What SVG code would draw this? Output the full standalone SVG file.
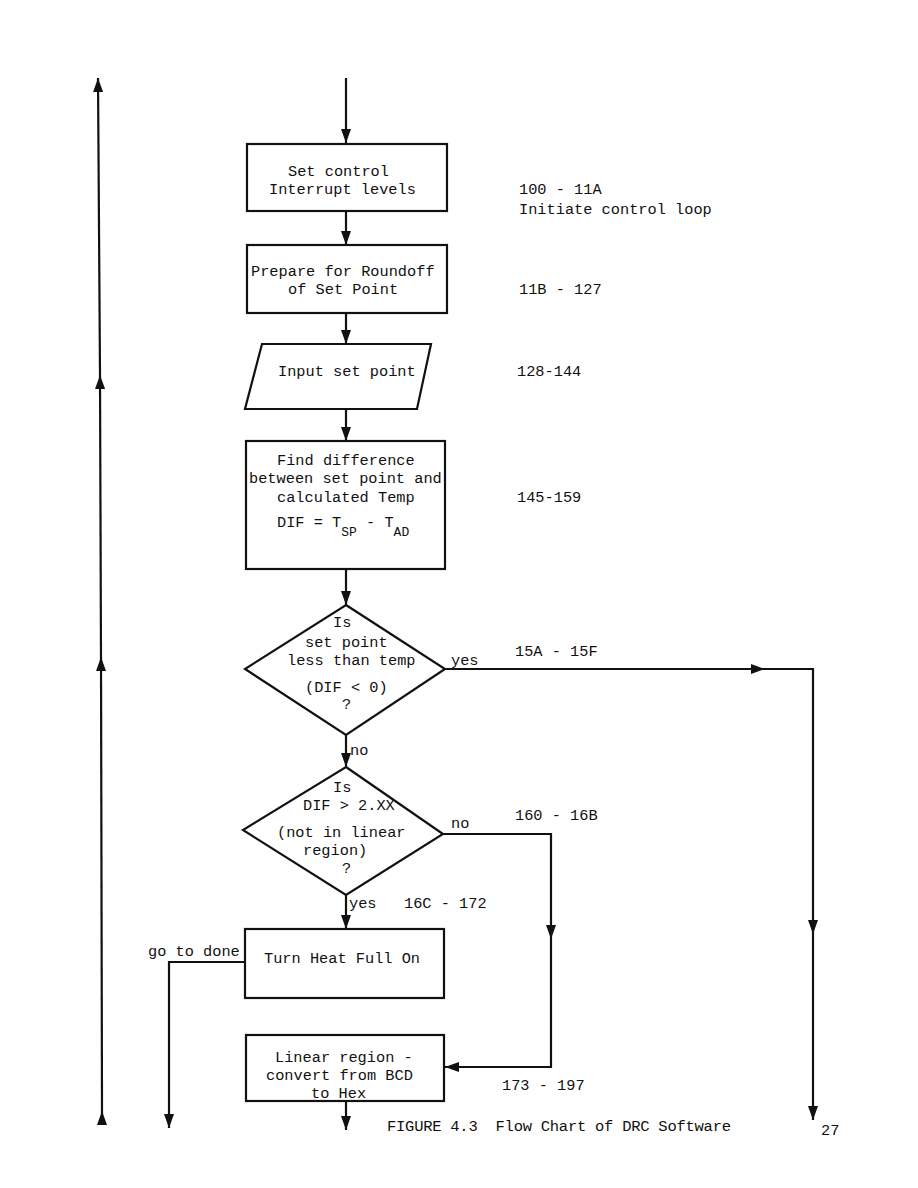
<svg xmlns="http://www.w3.org/2000/svg" width="918" height="1188" viewBox="0 0 918 1188">
<style>
  .shape { fill: #ffffff; stroke: #111111; stroke-width: 2.2; }
  .conn { fill: none; stroke: #111111; stroke-width: 2.2; }
  text { font-family: "Liberation Mono", "DejaVu Sans Mono", monospace; font-size: 15.3px; fill: #111111; }
  .sub { font-size: 13px; }
  .cap { font-size: 15.5px; }
</style>
<defs>
  <marker id="ah" viewBox="0 0 14 10" refX="14" refY="5" markerWidth="14" markerHeight="10" markerUnits="userSpaceOnUse" orient="auto">
    <path d="M0,0 L14,5 L0,10 z" fill="#111111"/>
  </marker>
</defs>
<rect width="918" height="1188" fill="#ffffff"/>

<g id="connectors">
  <path class="conn" d="M346,78 L346,143" marker-end="url(#ah)"/>
  <path class="conn" d="M346,212 L346,245" marker-end="url(#ah)"/>
  <path class="conn" d="M346,313 L346,344" marker-end="url(#ah)"/>
  <path class="conn" d="M346,409 L346,441" marker-end="url(#ah)"/>
  <path class="conn" d="M346,569 L346,605" marker-end="url(#ah)"/>
  <path class="conn" d="M346,735 L346,767" marker-end="url(#ah)"/>
  <path class="conn" d="M346,895 L346,929" marker-end="url(#ah)"/>
  <path class="conn" d="M346,1101 L346,1130" marker-end="url(#ah)"/>
  <path class="conn" d="M445,669 L765,669" marker-end="url(#ah)"/>
  <path class="conn" d="M765,669 L813,669 L813,934" marker-end="url(#ah)"/>
  <path class="conn" d="M813,934 L813,1120" marker-end="url(#ah)"/>
  <path class="conn" d="M443,834 L551,834 L551,939" marker-end="url(#ah)"/>
  <path class="conn" d="M551,939 L551,1067 L445,1067" marker-end="url(#ah)"/>
  <path class="conn" d="M245,962 L169,962 L169,1128" marker-end="url(#ah)"/>
  <path class="conn" d="M102,1125 L102,1111" marker-end="url(#ah)"/>
  <path class="conn" d="M102,1111 L101,657" marker-end="url(#ah)"/>
  <path class="conn" d="M101,657 L100,375" marker-end="url(#ah)"/>
  <path class="conn" d="M100,375 L98,78" marker-end="url(#ah)"/>
</g>

<g id="n1">
  <rect class="shape" x="247" y="144" width="200" height="67"/>
  <text x="288" y="176">Set control</text>
  <text x="269" y="194">Interrupt levels</text>
</g>
<g id="n2">
  <rect class="shape" x="247" y="245" width="200" height="68"/>
  <text x="251" y="276">Prepare for Roundoff</text>
  <text x="288" y="294">of Set Point</text>
</g>
<g id="n3">
  <polygon class="shape" points="262,344 431,344 417,409 245,409"/>
  <text x="278" y="376">Input set point</text>
</g>
<g id="n4">
  <rect class="shape" x="246" y="441" width="199" height="128"/>
  <text x="277" y="465">Find difference</text>
  <text x="249" y="483">between set point and</text>
  <text x="277" y="502">calculated Temp</text>
  <text x="277" y="527">DIF = T<tspan class="sub" dy="9">SP</tspan><tspan dy="-9"> - T</tspan><tspan class="sub" dy="9">AD</tspan></text>
</g>
<g id="n5">
  <polygon class="shape" points="346,605 445,669 346,735 245,669"/>
  <text x="333" y="627">Is</text>
  <text x="305" y="647">set point</text>
  <text x="287" y="665">less than temp</text>
  <text x="305" y="692">(DIF &lt; 0)</text>
  <text x="342" y="709">?</text>
</g>
<g id="n6">
  <polygon class="shape" points="346,767 443,834 346,895 243,830"/>
  <text x="333" y="792">Is</text>
  <text x="303" y="810">DIF &gt; 2.XX</text>
  <text x="277" y="837">(not in linear</text>
  <text x="303" y="855">region)</text>
  <text x="342" y="873">?</text>
</g>
<g id="n7">
  <rect class="shape" x="245" y="929" width="199" height="69"/>
  <text x="264" y="963">Turn Heat Full On</text>
</g>
<g id="n8">
  <rect class="shape" x="246" y="1035" width="198" height="66"/>
  <text x="275" y="1062">Linear region -</text>
  <text x="266" y="1080">convert from BCD</text>
  <text x="311" y="1098">to Hex</text>
</g>

<g id="labels">
  <text x="519" y="194">100 - 11A</text>
  <text x="519" y="214">Initiate control loop</text>
  <text x="519" y="294">11B - 127</text>
  <text x="517" y="376">128-144</text>
  <text x="517" y="502">145-159</text>
  <text x="451" y="665">yes</text>
  <text x="515" y="656">15A - 15F</text>
  <text x="350" y="755">no</text>
  <text x="451" y="828">no</text>
  <text x="515" y="820">160 - 16B</text>
  <text x="349" y="908">yes</text>
  <text x="404" y="908">16C - 172</text>
  <text x="148" y="956">go to done</text>
  <text x="502" y="1090">173 - 197</text>
  <text class="cap" x="387" y="1131" textLength="344" xml:space="preserve">FIGURE 4.3&#160; Flow Chart of DRC Software</text>
  <text x="821" y="1135">27</text>
</g>
</svg>
